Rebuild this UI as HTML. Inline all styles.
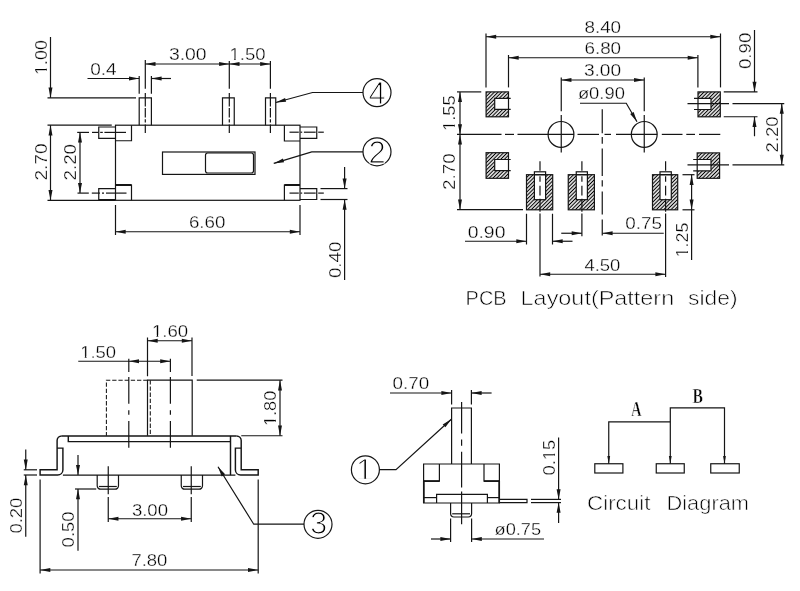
<!DOCTYPE html>
<html lang="en">
<head>
<meta charset="utf-8">
<title>Slide switch drawing</title>
<style>
html,body{margin:0;padding:0;background:#fff;}
body{width:800px;height:591px;overflow:hidden;}
svg{display:block;will-change:transform;}
svg path,svg rect,svg circle{fill:none;stroke:#151515;stroke-width:1.2;}
svg rect.w{fill:#fff;stroke:none;}
svg path.a{fill:#151515;stroke:none;}
svg text{font-family:"Liberation Sans",Arial,sans-serif;fill:#000;stroke:#fff;stroke-width:0.3px;paint-order:fill stroke;}
svg text.h{stroke-width:0.6px;}
svg text.b{font-size:31px;stroke-width:1.15px;}
svg text.s{font-family:"Liberation Serif","Times New Roman",serif;font-weight:bold;font-size:21px;fill:#000;stroke:#fff;stroke-width:0.5px;}
</style>
</head>
<body>
<svg width="800" height="591" viewBox="0 0 800 591">
<defs>
<pattern id="h" width="2.6" height="2.6" patternUnits="userSpaceOnUse" patternTransform="rotate(-45)">
<path d="M0 1.3H2.6" style="stroke:#000;stroke-width:1.15"/>
</pattern>
</defs>
<rect x="0" y="0" width="800" height="591" style="fill:#fff;stroke:none"/>
<!-- top view -->
<path d="M50.5 37L50.5 97.8"/>
<path class="a" d="M50.50 97.80L48.50 87.60L52.50 87.60Z"/>
<path d="M47.5 97.8L136 97.8"/>
<g transform="translate(46.8 57.55) rotate(-90)"><text class="t" font-size="15.6" text-anchor="middle" textLength="34.7" lengthAdjust="spacingAndGlyphs">1.00</text><rect class="w" x="-17.00" y="-1.97" width="4.04" height="2.62"/><rect class="w" x="-11.19" y="-1.97" width="4.39" height="2.62"/></g>
<path d="M139.2 125.2V97.8H151.4V125.2"/>
<path d="M222.5 125.2V97.8H234.25V125.2"/>
<path d="M265.5 125.2V97.8H275.75V125.2"/>
<path d="M145.3 60L145.3 88.8"/>
<path d="M145.3 93L145.3 106.5"/>
<path d="M145.3 107.9L145.3 117.6"/>
<path d="M145.3 119.3L145.3 122.6"/>
<path d="M145.3 124.5L145.3 132.9"/>
<path d="M229.3 61L229.3 88.8"/>
<path d="M229.3 93L229.3 106.5"/>
<path d="M229.3 107.9L229.3 117.6"/>
<path d="M229.3 119.3L229.3 122.6"/>
<path d="M229.3 124.5L229.3 132.9"/>
<path d="M270.4 61L270.4 88.8"/>
<path d="M270.4 93L270.4 106.5"/>
<path d="M270.4 107.9L270.4 117.6"/>
<path d="M270.4 119.3L270.4 122.6"/>
<path d="M270.4 124.5L270.4 132.9"/>
<path d="M87.5 78.5L139.2 78.5"/>
<path class="a" d="M139.20 78.50L129.00 80.50L129.00 76.50Z"/>
<path d="M139.2 76L139.2 93.7"/>
<path d="M151.4 76L151.4 93.7"/>
<path class="a" d="M151.40 78.50L161.60 76.50L161.60 80.50Z"/>
<path d="M151.4 78.5L171 78.5"/>
<g transform="translate(103.4 75)"><text class="t" font-size="15.6" text-anchor="middle" textLength="26.4" lengthAdjust="spacingAndGlyphs">0.4</text></g>
<path d="M145.3 64L270.4 64"/>
<path class="a" d="M145.30 64.00L155.50 62.00L155.50 66.00Z"/>
<path class="a" d="M229.30 64.00L219.10 66.00L219.10 62.00Z"/>
<path class="a" d="M229.30 64.00L239.50 62.00L239.50 66.00Z"/>
<path class="a" d="M270.40 64.00L260.20 66.00L260.20 62.00Z"/>
<g transform="translate(187.75 59.9)"><text class="t" font-size="15.6" text-anchor="middle" textLength="37.7" lengthAdjust="spacingAndGlyphs">3.00</text></g>
<g transform="translate(247.5 60)"><text class="t" font-size="15.6" text-anchor="middle" textLength="36.2" lengthAdjust="spacingAndGlyphs">1.50</text><rect class="w" x="-17.74" y="-1.97" width="4.21" height="2.62"/><rect class="w" x="-11.68" y="-1.97" width="4.58" height="2.62"/></g>
<rect x="115.5" y="125.2" width="184.5" height="75.1"/>
<path d="M47.5 125.2L111.75 125.2"/>
<path d="M47.5 200.3L115.5 200.3"/>
<path d="M50.5 125.2L50.5 200.3"/>
<path class="a" d="M50.50 125.20L52.50 135.40L48.50 135.40Z"/>
<path class="a" d="M50.50 200.30L48.50 190.10L52.50 190.10Z"/>
<g transform="translate(47.3 162) rotate(-90)"><text class="t" font-size="15.6" text-anchor="middle" textLength="37.2" lengthAdjust="spacingAndGlyphs">2.70</text></g>
<path d="M80 132.4L80 193.1"/>
<path class="a" d="M80.00 132.40L82.00 142.60L78.00 142.60Z"/>
<path class="a" d="M80.00 193.10L78.00 182.90L82.00 182.90Z"/>
<g transform="translate(76.2 162.25) rotate(-90)"><text class="t" font-size="15.6" text-anchor="middle" textLength="36.7" lengthAdjust="spacingAndGlyphs">2.20</text></g>
<path d="M131.5 125.2V140.75H115.5"/>
<path d="M115.5 185H131.5V200.3"/>
<path d="M284.4 125.2V141H300"/>
<path d="M300 185H284.4V200.3"/>
<path d="M115.5 185L131.5 185" style="stroke-width:2"/>
<path d="M284.4 185L300 185" style="stroke-width:2"/>
<path d="M115.5 127H98.75V138.3H115.5"/>
<path d="M115.5 188.6H98.75V199.5H115.5"/>
<path d="M300 127H316.75V138.3H300"/>
<path d="M300 188.6H316.75V199.5H300"/>
<path d="M77.2 132.4L89 132.4"/>
<path d="M92 132.4L98.4 132.4"/>
<path d="M100.2 132.4L102.8 132.4"/>
<path d="M104.4 132.4L126 132.4"/>
<path d="M77.5 193.1L88.8 193.1"/>
<path d="M91.8 193.1L100 193.1"/>
<path d="M102 193.1L104 193.1"/>
<path d="M106 193.1L126.5 193.1"/>
<path d="M289.5 132.2L298.8 132.2"/>
<path d="M300.5 132.2L302.2 132.2"/>
<path d="M303.9 132.2L315.7 132.2"/>
<path d="M318.2 132.2L323.8 132.2"/>
<path d="M289.5 193.1L298.8 193.1"/>
<path d="M300.5 193.1L302.2 193.1"/>
<path d="M303.9 193.1L315.7 193.1"/>
<path d="M318.2 193.1L323.8 193.1"/>
<rect x="162.5" y="152" width="92.5" height="22.4"/>
<rect x="205.5" y="153" width="48" height="20" rx="2.2"/>
<path d="M115.5 205L115.5 235"/>
<path d="M300 205L300 235"/>
<path d="M115.5 231.75L300 231.75"/>
<path class="a" d="M115.50 231.75L125.70 229.75L125.70 233.75Z"/>
<path class="a" d="M300.00 231.75L289.80 233.75L289.80 229.75Z"/>
<g transform="translate(207.15 228.2)"><text class="t" font-size="15.6" text-anchor="middle" textLength="36.5" lengthAdjust="spacingAndGlyphs">6.60</text></g>
<path d="M320.5 188.6L347.5 188.6"/>
<path d="M320.5 199.5L347.5 199.5"/>
<path d="M344.6 167L344.6 188.6"/>
<path class="a" d="M344.60 188.60L342.60 178.40L346.60 178.40Z"/>
<path d="M344.6 199.5L344.6 280"/>
<path class="a" d="M344.60 199.50L346.60 209.70L342.60 209.70Z"/>
<g transform="translate(340.6 259.8) rotate(-90)"><text class="t" font-size="15.6" text-anchor="middle" textLength="36.6" lengthAdjust="spacingAndGlyphs">0.40</text></g>
<path d="M275.75 102.5L312.5 92.5H363"/>
<path class="a" d="M275.75 102.50L285.07 97.90L286.12 101.76Z"/>
<circle cx="377" cy="92.6" r="14"/>
<path d="M273.75 163.4L311.75 151.9H363"/>
<path class="a" d="M273.75 163.40L282.94 158.54L284.09 162.37Z"/>
<circle cx="377" cy="151.8" r="14"/>
<text class="b" x="377.2" y="103.6" text-anchor="middle">4</text>
<text class="b" x="377.2" y="162.7" text-anchor="middle">2</text>
<!-- PCB layout -->
<path d="M486 33.5L486 87.4"/>
<path d="M720.5 33.5L720.5 87.4"/>
<path d="M486 36.75L720.5 36.75"/>
<path class="a" d="M486.00 36.75L496.20 34.75L496.20 38.75Z"/>
<path class="a" d="M720.50 36.75L710.30 38.75L710.30 34.75Z"/>
<g transform="translate(602.75 33)"><text class="t" font-size="15.6" text-anchor="middle" textLength="36.7" lengthAdjust="spacingAndGlyphs">8.40</text></g>
<path d="M508.5 55L508.5 87.4"/>
<path d="M697.9 55L697.9 87.4"/>
<path d="M508.5 57.75L697.9 57.75"/>
<path class="a" d="M508.50 57.75L518.70 55.75L518.70 59.75Z"/>
<path class="a" d="M697.90 57.75L687.70 59.75L687.70 55.75Z"/>
<g transform="translate(602.75 53.8)"><text class="t" font-size="15.6" text-anchor="middle" textLength="36.7" lengthAdjust="spacingAndGlyphs">6.80</text></g>
<path d="M561.25 80L644.25 80"/>
<path class="a" d="M561.25 80.00L571.45 78.00L571.45 82.00Z"/>
<path class="a" d="M644.25 80.00L634.05 82.00L634.05 78.00Z"/>
<g transform="translate(602.5 75.8)"><text class="t" font-size="15.6" text-anchor="middle" textLength="37.2" lengthAdjust="spacingAndGlyphs">3.00</text></g>
<circle cx="561" cy="134.4" r="12.9"/>
<circle cx="644.25" cy="134.4" r="12.9"/>
<path d="M561.25 77.5L561.25 111.25"/>
<path d="M561.25 115L561.25 152.5"/>
<path d="M644.25 77.5L644.25 111.25"/>
<path d="M644.25 115L644.25 152.5"/>
<path d="M457 134.4L501.5 134.4"/>
<path d="M505 134.4L514 134.4"/>
<path d="M517.5 134.4L574 134.4"/>
<path d="M577.5 134.4L599 134.4"/>
<path d="M604.5 134.4L611 134.4"/>
<path d="M616 134.4L657.2 134.4"/>
<path d="M661.8 134.4L682.5 134.4"/>
<path d="M686.3 134.4L695 134.4"/>
<path d="M699 134.4L720.3 134.4"/>
<path d="M602.25 109.3L602.25 133.2"/>
<path d="M602.25 136.9L602.25 143.7"/>
<path d="M602.25 148.5L602.25 175.9"/>
<path d="M602.25 180.3L602.25 186.5"/>
<path d="M602.25 191.6L602.25 214.5"/>
<path d="M602.25 219.5L602.25 235.6"/>
<g transform="translate(601.4 99.3)"><text class="t" font-size="15.6" text-anchor="middle" textLength="47" lengthAdjust="spacingAndGlyphs">ø0.90</text></g>
<path d="M580 103.25H626.25L637 121.75"/>
<path class="a" d="M637.00 121.75L630.17 113.92L633.63 111.92Z"/>
<rect x="486.1" y="91.9" width="22.4" height="24.9" style="fill:url(#h);stroke:none"/>
<rect x="494.7" y="98.4" width="15.3" height="11" style="fill:#fff;stroke:none"/>
<rect x="486.1" y="91.9" width="22.4" height="24.9"/>
<path d="M510.7 98.4H494.7V109.4H510.7"/>
<rect x="486.1" y="152.7" width="22.4" height="25.6" style="fill:url(#h);stroke:none"/>
<rect x="494.7" y="159.5" width="15.3" height="11.2" style="fill:#fff;stroke:none"/>
<rect x="486.1" y="152.7" width="22.4" height="25.6"/>
<path d="M510.7 159.5H494.7V170.7H510.7"/>
<rect x="698" y="91.9" width="22.3" height="24.9" style="fill:url(#h);stroke:none"/>
<rect x="696.5" y="98.4" width="14.5" height="11.1" style="fill:#fff;stroke:none"/>
<rect x="698" y="91.9" width="22.3" height="24.9"/>
<path d="M694 98.4H711V109.5H694"/>
<rect x="697.2" y="152.9" width="22.4" height="25.4" style="fill:url(#h);stroke:none"/>
<rect x="695.7" y="159.5" width="15.3" height="11.3" style="fill:#fff;stroke:none"/>
<rect x="697.2" y="152.9" width="22.4" height="25.4"/>
<path d="M693.2 159.5H711V170.8H693.2"/>
<rect x="526.5" y="174.7" width="26.2" height="35.1" style="fill:url(#h);stroke:none"/>
<rect x="534.4" y="171.8" width="11.2" height="27.9" style="fill:#fff;stroke:none"/>
<rect x="526.5" y="174.7" width="26.2" height="35.1"/>
<rect x="534.4" y="171.8" width="11.2" height="27.9"/>
<path d="M534.4 174.7L545.6 174.7"/>
<rect x="568.25" y="174.7" width="26.15" height="35.1" style="fill:url(#h);stroke:none"/>
<rect x="576.25" y="171.8" width="11.15" height="27.9" style="fill:#fff;stroke:none"/>
<rect x="568.25" y="174.7" width="26.15" height="35.1"/>
<rect x="576.25" y="171.8" width="11.15" height="27.9"/>
<path d="M576.25 174.7L587.4 174.7"/>
<rect x="652.5" y="174.7" width="25.2" height="35.1" style="fill:url(#h);stroke:none"/>
<rect x="660" y="171.8" width="11.3" height="27.9" style="fill:#fff;stroke:none"/>
<rect x="652.5" y="174.7" width="25.2" height="35.1"/>
<rect x="660" y="171.8" width="11.3" height="27.9"/>
<path d="M660 174.7L671.3 174.7"/>
<path d="M540 161.25L540 170.8"/>
<path d="M540 176.2L540 181.8"/>
<path d="M540 185.8L540 195.4"/>
<path d="M540 198.8L540 211.7"/>
<path d="M540 213.6L540 276.5"/>
<path d="M581.9 161.25L581.9 170.8"/>
<path d="M581.9 176.2L581.9 181.8"/>
<path d="M581.9 185.8L581.9 195.4"/>
<path d="M581.9 198.8L581.9 211.7"/>
<path d="M581.9 213.6L581.9 236.25"/>
<path d="M665.6 161.25L665.6 170.8"/>
<path d="M665.6 176.2L665.6 181.8"/>
<path d="M665.6 185.8L665.6 195.4"/>
<path d="M665.6 198.8L665.6 211.7"/>
<path d="M665.6 213.6L665.6 277"/>
<path d="M687.5 103.6L729 103.6"/>
<path d="M732.5 103.6L784.25 103.6"/>
<path d="M687.5 164.9L729 164.9"/>
<path d="M732.5 164.9L784.25 164.9"/>
<path d="M457 91.9L481.25 91.9"/>
<path d="M460 91.9L460 209.6"/>
<path class="a" d="M460.00 91.90L462.00 102.10L458.00 102.10Z"/>
<path class="a" d="M460.00 134.40L458.00 124.20L462.00 124.20Z"/>
<path class="a" d="M460.00 134.40L462.00 144.60L458.00 144.60Z"/>
<path class="a" d="M460.00 209.60L458.00 199.40L462.00 199.40Z"/>
<path d="M457 209.6L523 209.6"/>
<g transform="translate(455 113.15) rotate(-90)"><text class="t" font-size="15.6" text-anchor="middle" textLength="35.9" lengthAdjust="spacingAndGlyphs">1.55</text><rect class="w" x="-17.59" y="-1.97" width="4.18" height="2.62"/><rect class="w" x="-11.58" y="-1.97" width="4.54" height="2.62"/></g>
<g transform="translate(455 171.55) rotate(-90)"><text class="t" font-size="15.6" text-anchor="middle" textLength="36.7" lengthAdjust="spacingAndGlyphs">2.70</text></g>
<path d="M723.75 91.9L757.5 91.9"/>
<path d="M723.75 116.75L757.5 116.75"/>
<path d="M754.5 30L754.5 91.9"/>
<path class="a" d="M754.50 91.90L752.50 81.70L756.50 81.70Z"/>
<path d="M754.5 116.75L754.5 136.25"/>
<path class="a" d="M754.50 116.75L756.50 126.95L752.50 126.95Z"/>
<g transform="translate(750.7 50.9) rotate(-90)"><text class="t" font-size="15.6" text-anchor="middle" textLength="36.4" lengthAdjust="spacingAndGlyphs">0.90</text></g>
<path d="M781.75 103.6L781.75 164.9"/>
<path class="a" d="M781.75 103.60L783.75 113.80L779.75 113.80Z"/>
<path class="a" d="M781.75 164.90L779.75 154.70L783.75 154.70Z"/>
<g transform="translate(778 134.4) rotate(-90)"><text class="t" font-size="15.6" text-anchor="middle" textLength="36" lengthAdjust="spacingAndGlyphs">2.20</text></g>
<path d="M682.5 174.7L694.5 174.7"/>
<path d="M682.5 209.8L694.5 209.8"/>
<path d="M691.6 174.7L691.6 260"/>
<path class="a" d="M691.60 174.70L693.60 184.90L689.60 184.90Z"/>
<path class="a" d="M691.60 209.80L689.60 199.60L693.60 199.60Z"/>
<g transform="translate(687.5 240.05) rotate(-90)"><text class="t" font-size="15.6" text-anchor="middle" textLength="34.7" lengthAdjust="spacingAndGlyphs">1.25</text><rect class="w" x="-17.00" y="-1.97" width="4.04" height="2.62"/><rect class="w" x="-11.19" y="-1.97" width="4.39" height="2.62"/></g>
<path d="M465 241.25L526.5 241.25"/>
<path class="a" d="M526.50 241.25L516.30 243.25L516.30 239.25Z"/>
<path d="M526.5 213.75L526.5 244.5"/>
<path d="M552.5 213.75L552.5 244.5"/>
<path class="a" d="M552.50 241.25L562.70 239.25L562.70 243.25Z"/>
<path d="M552.5 241.25L572.5 241.25"/>
<g transform="translate(486.55 238)"><text class="t" font-size="15.6" text-anchor="middle" textLength="37.7" lengthAdjust="spacingAndGlyphs">0.90</text></g>
<path d="M561.25 233.25L581.9 233.25"/>
<path class="a" d="M581.90 233.25L571.70 235.25L571.70 231.25Z"/>
<path class="a" d="M602.40 233.25L612.60 231.25L612.60 235.25Z"/>
<path d="M602.4 233.25L663.75 233.25"/>
<g transform="translate(643.55 229.2)"><text class="t" font-size="15.6" text-anchor="middle" textLength="36.7" lengthAdjust="spacingAndGlyphs">0.75</text></g>
<path d="M540 274.25L665.6 274.25"/>
<path class="a" d="M540.00 274.25L550.20 272.25L550.20 276.25Z"/>
<path class="a" d="M665.60 274.25L655.40 276.25L655.40 272.25Z"/>
<g transform="translate(602.4 270.5)"><text class="t" font-size="15.6" text-anchor="middle" textLength="36" lengthAdjust="spacingAndGlyphs">4.50</text></g>
<text class="h" y="305.3" font-size="21"><tspan x="465.6" textLength="41" lengthAdjust="spacingAndGlyphs">PCB</tspan> <tspan x="520.6" textLength="153.6" lengthAdjust="spacingAndGlyphs">Layout(Pattern</tspan> <tspan x="688" textLength="49.6" lengthAdjust="spacingAndGlyphs">side)</tspan></text>
<!-- front view -->
<path d="M147.5 337.5L147.5 376.25"/>
<path d="M192 337.5L192 376"/>
<path d="M147.5 340.75L192 340.75"/>
<path class="a" d="M147.50 340.75L157.70 338.75L157.70 342.75Z"/>
<path class="a" d="M192.00 340.75L181.80 342.75L181.80 338.75Z"/>
<g transform="translate(170 336.8)"><text class="t" font-size="15.6" text-anchor="middle" textLength="36.2" lengthAdjust="spacingAndGlyphs">1.60</text><rect class="w" x="-17.74" y="-1.97" width="4.21" height="2.62"/><rect class="w" x="-11.68" y="-1.97" width="4.58" height="2.62"/></g>
<path d="M78.25 361.25L170.4 361.25"/>
<path class="a" d="M128.80 361.25L139.00 359.25L139.00 363.25Z"/>
<path class="a" d="M170.40 361.25L160.20 363.25L160.20 359.25Z"/>
<g transform="translate(98.15 358)"><text class="t" font-size="15.6" text-anchor="middle" textLength="35.9" lengthAdjust="spacingAndGlyphs">1.50</text><rect class="w" x="-17.59" y="-1.97" width="4.18" height="2.62"/><rect class="w" x="-11.58" y="-1.97" width="4.54" height="2.62"/></g>
<path d="M128.8 358.7L128.8 372"/>
<path d="M128.8 377L128.8 403.8"/>
<path d="M128.8 410.2L128.8 414.8"/>
<path d="M128.8 421L128.8 447.8"/>
<path d="M170.4 358.7L170.4 372"/>
<path d="M170.4 377L170.4 403.8"/>
<path d="M170.4 410.2L170.4 414.8"/>
<path d="M170.4 421L170.4 447.8"/>
<path d="M147.5 435.75V380.2H192.2V435.75"/>
<path d="M147.5 380.2H106.4V435.75" stroke-dasharray="4.3 1.9" style="stroke-width:1.05"/>
<path d="M150.3 380.2L150.3 435.75" stroke-dasharray="4.3 1.9" style="stroke-width:1.05"/>
<path d="M196.75 380.2L282.5 380.2"/>
<path d="M241.25 435.75L282.5 435.75"/>
<path d="M280 380.2L280 435.75"/>
<path class="a" d="M280.00 380.20L282.00 390.40L278.00 390.40Z"/>
<path class="a" d="M280.00 435.75L278.00 425.55L282.00 425.55Z"/>
<g transform="translate(275.8 408.4) rotate(-90)"><text class="t" font-size="15.6" text-anchor="middle" textLength="35.4" lengthAdjust="spacingAndGlyphs">1.80</text><rect class="w" x="-17.34" y="-1.97" width="4.12" height="2.62"/><rect class="w" x="-11.42" y="-1.97" width="4.48" height="2.62"/></g>
<path d="M61.8 435.9H236.5" style="stroke-width:1.45"/>
<path d="M61.8 435.9A4.7 4.7 0 0 0 57.1 440.6V469.8H40.1V475H57.7A5.2 5.2 0 0 0 62.9 470V448.1H57.1" style="stroke-width:1.45"/>
<path d="M236.5 435.9A4.7 4.7 0 0 1 241.2 440.6V469.8H258.2V475H240.6A5.2 5.2 0 0 1 235.4 470V448.1H241.2" style="stroke-width:1.45"/>
<path d="M68.3 435.9V441.6H230.5" style="stroke-width:1.45"/>
<path d="M230.5 435.9L230.5 475.1" style="stroke-width:1.45"/>
<path d="M62.9 475.1L235.4 475.1" style="stroke-width:1.45"/>
<path d="M97.2 475.1V485.8A3.4 3.4 0 0 0 100.60000000000001 489.2H115.1A3.4 3.4 0 0 0 118.5 485.8V475.1"/>
<path d="M98.9 486.5L116.8 486.5"/>
<path d="M108.25 466.25L108.25 494.2"/>
<path d="M108.25 497L108.25 522"/>
<path d="M181.25 475.1V485.8A3.4 3.4 0 0 0 184.65 489.2H199.1A3.4 3.4 0 0 0 202.5 485.8V475.1"/>
<path d="M182.95 486.5L200.8 486.5"/>
<path d="M191.25 466.25L191.25 494.2"/>
<path d="M191.25 497L191.25 522"/>
<path d="M108.25 518.75L191.25 518.75"/>
<path class="a" d="M108.25 518.75L118.45 516.75L118.45 520.75Z"/>
<path class="a" d="M191.25 518.75L181.05 520.75L181.05 516.75Z"/>
<g transform="translate(149.95 515.6)"><text class="t" font-size="15.6" text-anchor="middle" textLength="36.1" lengthAdjust="spacingAndGlyphs">3.00</text></g>
<path d="M23.75 469.8L37 469.8"/>
<path d="M23.75 475L37 475"/>
<path d="M25.75 449.5L25.75 469.8"/>
<path class="a" d="M25.75 469.80L23.75 459.60L27.75 459.60Z"/>
<path d="M25.75 475L25.75 536.8"/>
<path class="a" d="M25.75 475.00L27.75 485.20L23.75 485.20Z"/>
<g transform="translate(22 515.65) rotate(-90)"><text class="t" font-size="15.6" text-anchor="middle" textLength="35.9" lengthAdjust="spacingAndGlyphs">0.20</text></g>
<path d="M78 455L78 475.1"/>
<path class="a" d="M78.00 475.10L76.00 464.90L80.00 464.90Z"/>
<path d="M75 489L96.25 489"/>
<path d="M78 489L78 550.8"/>
<path class="a" d="M78.00 489.00L80.00 499.20L76.00 499.20Z"/>
<g transform="translate(74.2 529.4) rotate(-90)"><text class="t" font-size="15.6" text-anchor="middle" textLength="36" lengthAdjust="spacingAndGlyphs">0.50</text></g>
<path d="M40.1 479.5L40.1 573.5"/>
<path d="M258.2 479.5L258.2 573.5"/>
<path d="M40.1 570L258.2 570"/>
<path class="a" d="M40.10 570.00L50.30 568.00L50.30 572.00Z"/>
<path class="a" d="M258.20 570.00L248.00 572.00L248.00 568.00Z"/>
<g transform="translate(149.4 566.4)"><text class="t" font-size="15.6" text-anchor="middle" textLength="36" lengthAdjust="spacingAndGlyphs">7.80</text></g>
<path d="M218 466.75L253.75 524.2H304"/>
<path class="a" d="M218.00 466.75L225.11 474.33L221.73 476.45Z"/>
<circle cx="318" cy="524.3" r="14"/>
<text class="b" x="318.6" y="534.2" text-anchor="middle">3</text>
<!-- side view -->
<path d="M451.6 464V408H471.4V464"/>
<path d="M451.6 390L451.6 404.4"/>
<path d="M471.4 390L471.4 404.4"/>
<path d="M390 393L451.6 393"/>
<path class="a" d="M451.60 393.00L441.40 395.00L441.40 391.00Z"/>
<path class="a" d="M471.40 393.00L481.60 391.00L481.60 395.00Z"/>
<path d="M471.4 393L491.6 393"/>
<g transform="translate(410.8 388.6)"><text class="t" font-size="15.6" text-anchor="middle" textLength="36.6" lengthAdjust="spacingAndGlyphs">0.70</text></g>
<path d="M461.6 402L461.6 433.4"/>
<path d="M461.6 439.6L461.6 445.8"/>
<path d="M461.6 451.8L461.6 487.5"/>
<path d="M461.6 491.5L461.6 524.3"/>
<path d="M423.6 503V464H499.4V503Z"/>
<path d="M439.4 464V481.1H423.6"/>
<path d="M484 464V481.1H499.4"/>
<path d="M423.6 481.1L439.4 481.1" style="stroke-width:1.7"/>
<path d="M484 481.1L499.4 481.1" style="stroke-width:1.7"/>
<path d="M423.8 480.6L423.8 503" style="stroke-width:1.7"/>
<path d="M499.2 480.6L499.2 503" style="stroke-width:1.7"/>
<path d="M423.6 497.6H436.6"/>
<path d="M487.4 497.6H499.4"/>
<path d="M436.6 503V494.4H487.4V503"/>
<path d="M499.4 499.4H527V502.6H499.4"/>
<path d="M531 499.4L561 499.4"/>
<path d="M531 502.6L561 502.6"/>
<path d="M558.6 437.6L558.6 499.4"/>
<path class="a" d="M558.60 499.40L556.60 489.20L560.60 489.20Z"/>
<path d="M558.6 502.6L558.6 523"/>
<path class="a" d="M558.60 502.60L560.60 512.80L556.60 512.80Z"/>
<g transform="translate(555 457.6) rotate(-90)"><text class="t" font-size="15.6" text-anchor="middle" textLength="36" lengthAdjust="spacingAndGlyphs">0.15</text><rect class="w" x="-2.21" y="-1.97" width="4.19" height="2.62"/><rect class="w" x="3.81" y="-1.97" width="4.55" height="2.62"/></g>
<path d="M450.6 503V513.6A3.4 3.4 0 0 0 454 517H468.2A3.4 3.4 0 0 0 471.6 513.6V503"/>
<path d="M452.2 513.8L470 513.8"/>
<path d="M450.6 518.6L450.6 542"/>
<path d="M471.6 518.6L471.6 542"/>
<path d="M431 539L450.6 539"/>
<path class="a" d="M450.60 539.00L440.40 541.00L440.40 537.00Z"/>
<path class="a" d="M471.60 539.00L481.80 537.00L481.80 541.00Z"/>
<path d="M471.6 539L544 539"/>
<g transform="translate(517.8 535.4)"><text class="t" font-size="15.6" text-anchor="middle" textLength="46.6" lengthAdjust="spacingAndGlyphs">ø0.75</text></g>
<path d="M451.6 419L396 469.6H379"/>
<path class="a" d="M451.60 419.00L445.40 427.34L442.71 424.39Z"/>
<circle cx="365.4" cy="469.8" r="14"/>
<clipPath id="c1"><rect x="352" y="452" width="28" height="26.75" style="stroke:none"/></clipPath>
<g clip-path="url(#c1)"><text class="b" x="364.7" y="481.3" text-anchor="middle">1</text></g>
<!-- circuit diagram -->
<rect x="594.8" y="463.75" width="28.1" height="9.25"/>
<rect x="656.25" y="463.75" width="28" height="9.25"/>
<rect x="710.75" y="463.75" width="28.5" height="9.25"/>
<path d="M608.75 463.75V421.9H670.3"/>
<path d="M670.3 463.75V407.9H724.5V463.75"/>
<path class="a" d="M608.75 463.75L607.35 455.95L610.15 455.95Z"/>
<path class="a" d="M670.30 463.75L668.90 455.95L671.70 455.95Z"/>
<path class="a" d="M724.50 463.75L723.10 455.95L725.90 455.95Z"/>
<text class="s" x="636.3" y="416.2" text-anchor="middle" textLength="10.6" lengthAdjust="spacingAndGlyphs">A</text>
<text class="s" x="697.8" y="403.4" text-anchor="middle" textLength="10.4" lengthAdjust="spacingAndGlyphs">B</text>
<text class="h" y="509.6" font-size="20.4"><tspan x="587" textLength="63.5" lengthAdjust="spacingAndGlyphs">Circuit</tspan> <tspan x="666.5" textLength="82.5" lengthAdjust="spacingAndGlyphs">Diagram</tspan></text>
</svg>
</body>
</html>
